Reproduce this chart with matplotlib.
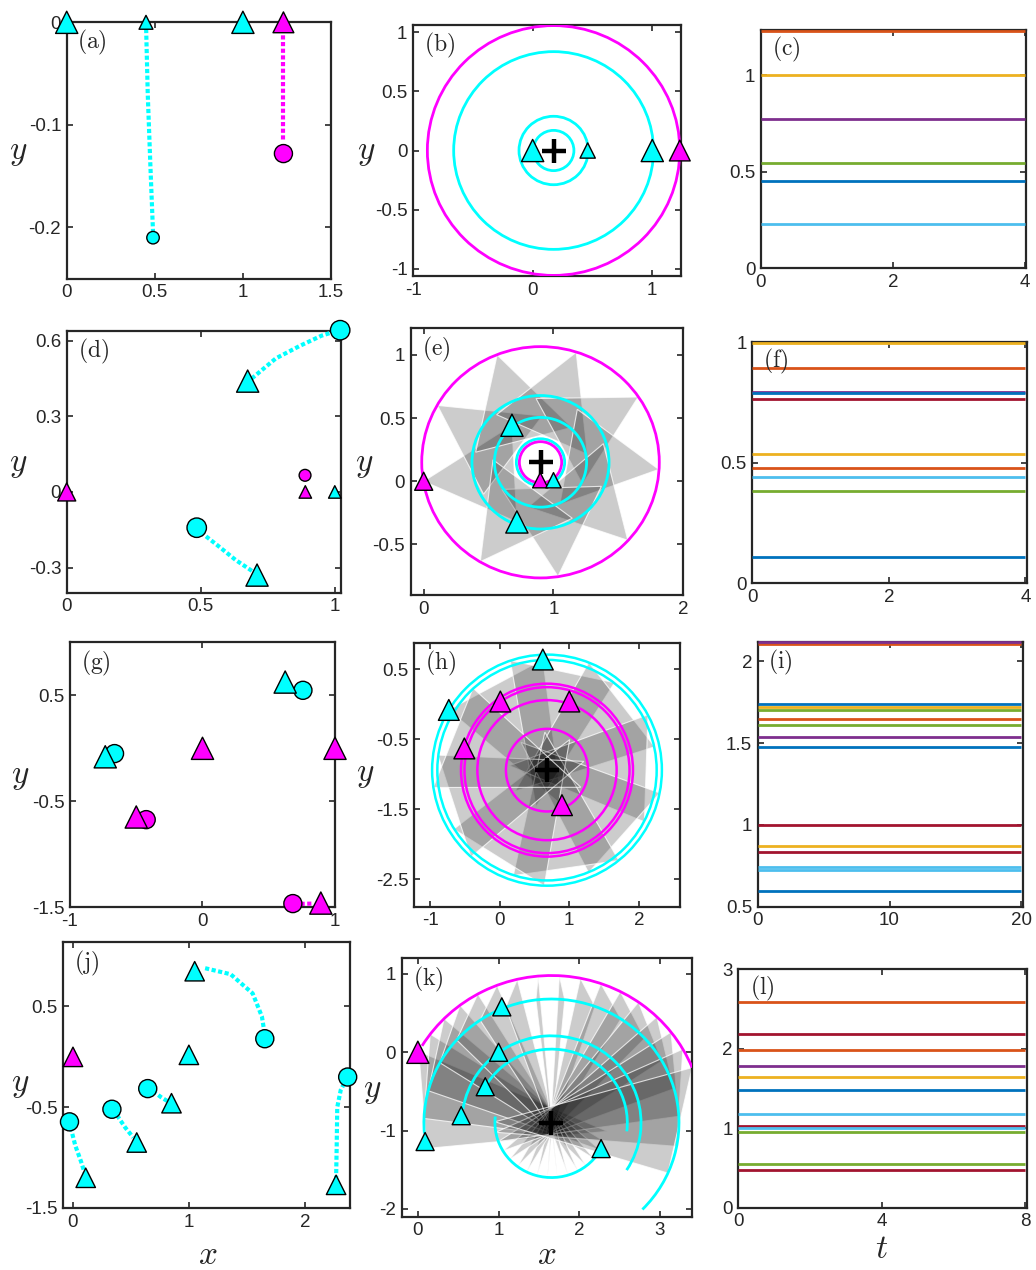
import numpy as np
import matplotlib
matplotlib.use("Agg")
import matplotlib.pyplot as plt
from matplotlib.patches import Circle, Arc, Polygon
from matplotlib.transforms import Affine2D
from matplotlib.ticker import FormatStrFormatter

plt.rcParams["font.family"] = ["Liberation Sans", "DejaVu Sans"]
plt.rcParams["mathtext.fontset"] = "cm"
plt.rcParams["axes.unicode_minus"] = False

CY, MG, K = "#00FFFF", "#FF00FF", "#262626"
BL, OR, YE, PU, GR, LB, DR = ("#0072BD", "#D95319", "#EDB120", "#7E2F8E",
                              "#77AC30", "#4DBEEE", "#A2142F")

# ── (a) initial vs. later positions ──
a_tri_x = [0.0, 0.45, 1.0, 1.23]
a_tri_y = [0.0, 0.0, 0.0, 0.0]
a_tri_c = [CY, CY, CY, MG]
a_tri_ms = [16, 10, 16, 15]
a_dot_x = [0.49, 1.23]
a_dot_y = [-0.21, -0.128]
a_dot_c = [CY, MG]
a_dot_ms = [9, 13]
a_path_cyan = ([0.45, 0.46, 0.475, 0.49], [0.0, -0.07, -0.14, -0.205])
a_path_mag = ([1.23, 1.23], [0.0, -0.115])

# ── (b) rotating frame ──
b_center = (0.175, 0.0)
b_radii = [0.17, 0.289, 0.835, 1.055]
b_rcol = [CY, CY, CY, MG]
b_tri_x = [0.0, 0.46, 1.0, 1.23]
b_tri_c = [CY, CY, CY, MG]
b_tri_ms = [16, 11, 16, 15]

# ── (c) conserved quantities ──
c_vals = [0.45, 1.229, 1.0, 0.774, 0.547, 0.228]
c_cols = [BL, OR, YE, PU, GR, LB]

# ── (d) ──
d_tri_x = [0.0, 0.675, 0.71, 0.89, 1.0]
d_tri_y = [0.0, 0.44, -0.33, 0.0, 0.0]
d_tri_c = [MG, CY, CY, MG, CY]
d_tri_ms = [13, 16, 16, 9, 9]
d_dot_x = [1.02, 0.485, 0.889]
d_dot_y = [0.642, -0.142, 0.066]
d_dot_c = [CY, CY, MG]
d_dot_ms = [14, 14, 8.5]
d_path1 = ([0.69, 0.78, 0.87, 0.95, 1.01], [0.45, 0.53, 0.58, 0.62, 0.64])
d_path2 = ([0.50, 0.56, 0.63, 0.70], [-0.16, -0.21, -0.27, -0.32])

# ── (e) ──
e_center = (0.9, 0.15)
e_radii = [0.915, 0.528, 0.355, 0.186, 0.163]
e_rcol = [MG, CY, CY, CY, MG]
e_tri_x = [0.0, 0.68, 0.718, 0.898, 1.0]
e_tri_y = [0.0, 0.443, -0.322, 0.008, 0.008]
e_tri_c = [MG, CY, CY, MG, CY]
e_tri_ms = [13, 16, 16, 11, 11]
e_shape = ([0.0, 0.68, 0.718], [0.0, 0.443, -0.322])
e_rot = [0, -39, -78, -117, -155, -193, -232, -271, -310]

# ── (f) ──
f_vals = [0.108, 0.479, 0.537, 0.796, 0.385, 0.443, 0.764, 0.79, 0.894, 1.0]
f_cols = [BL, OR, YE, PU, GR, LB, DR, BL, OR, YE]

# ── (g) ──
g_tri_x = [0.624, 0.0, 1.0, -0.734, -0.50, 0.893]
g_tri_y = [0.625, 0.0, 0.0, -0.08, -0.648, -1.46]
g_tri_c = [CY, MG, MG, CY, MG, MG]
g_dot_x = [0.758, -0.664, -0.425, 0.682]
g_dot_y = [0.547, -0.05, -0.673, -1.465]
g_dot_c = [CY, CY, MG, MG]
g_path = ([0.74, 0.83], [-1.468, -1.465])

# ── (h) ──
h_center = (0.68, -0.94)
h_radii = [1.65, 1.575, 1.235, 1.185, 1.0, 0.59]
h_rcol = [CY, CY, MG, MG, MG, MG]
h_tri_x = [0.62, -0.73, 0.01, 1.0, -0.507, 0.895]
h_tri_y = [0.64, -0.08, 0.04, 0.04, -0.63, -1.44]
h_tri_c = [CY, CY, MG, MG, MG, MG]
h_shape = ([0.62, -0.73, 0.895], [0.64, -0.08, -1.44])
h_rot = [0, -40, -80, -120, -160, -200, -240, -280, -320]

# ── (i) ──
i_vals = [2.104, 2.118, 1.74, 1.72, 1.70, 1.645, 1.61, 1.537, 1.478,
          1.0, 0.87, 0.832, 0.745, 0.725, 0.598]
i_cols = [OR, PU, BL, YE, GR, OR, GR, PU, BL, DR, YE, DR, LB, LB, BL]

# ── (j) ──
j_tri_x = [0.0, 1.05, 1.0, 0.85, 0.55, 0.11, 2.27]
j_tri_y = [0.0, 0.85, 0.02, -0.46, -0.85, -1.2, -1.27]
j_tri_c = [MG, CY, CY, CY, CY, CY, CY]
j_dot_x = [1.655, 0.645, 0.336, -0.03, 2.37]
j_dot_y = [0.18, -0.315, -0.52, -0.645, -0.2]
j_paths = [([1.14, 1.36, 1.55, 1.63, 1.655], [0.88, 0.82, 0.63, 0.40, 0.22]),
           ([0.69, 0.76, 0.83], [-0.34, -0.40, -0.45]),
           ([0.38, 0.45, 0.52], [-0.58, -0.70, -0.80]),
           ([-0.02, 0.02, 0.07, 0.10], [-0.70, -0.88, -1.04, -1.15]),
           ([2.27, 2.275, 2.28, 2.31, 2.35], [-1.22, -0.90, -0.50, -0.33, -0.24])]

# ── (k) ──
k_center = (1.655, -0.9)
k_arc_r = [1.88, 1.58, 1.11, 0.94, 0.70]
k_arc_t1 = [22, -44.5, -33, -6.7, 173.5]
k_arc_t2 = [148.5, 185, 171, 151, 333.4]
k_arc_c = [MG, CY, CY, CY, CY]
k_tri_x = [0.0, 1.04, 1.0, 0.835, 0.537, 0.09, 2.27]
k_tri_y = [0.0, 0.58, 0.0, -0.44, -0.81, -1.14, -1.23]
k_tri_c = [MG, CY, CY, CY, CY, CY, CY]
k_tri_ms = [16, 13, 13, 13, 13, 13, 13]
k_rad = [1.88, 1.58, 0.70]
k_ang_m = [151, 143, 135, 127, 119, 111, 103, 95, 87, 79, 71, 63, 55, 46, 38, 30, 22]
k_ang_a = [192, 178, 165, 151, 138, 124, 111, 97, 84, 70, 57, 43, 30, 16, 3, -11, -24]
k_ang_d = [351, 340, 330, 319, 308, 298, 287, 276, 266, 255, 244, 233, 222, 211, 200, 190, 179]

# ── (l) ──
l_vals = [2.589, 2.179, 1.982, 1.776, 1.638, 1.483, 1.177, 1.031, 0.997, 0.955, 0.553, 0.478]
l_cols = [OR, DR, OR, PU, YE, BL, LB, DR, LB, GR, GR, DR]

W, H = 1036, 1270
fig = plt.figure(figsize=(W / 100, H / 100), dpi=100, facecolor="white")


def add_ax(l, r, t, b):
    return fig.add_axes([l / W, 1 - b / H, (r - l) / W, (b - t) / H])


def style(ax, xl, yl, xt, yt, tag):
    ax.set_xlim(*xl)
    ax.set_ylim(*yl)
    ax.set_xticks(xt)
    ax.set_yticks(yt)
    ax.xaxis.set_major_formatter(FormatStrFormatter("%g"))
    ax.yaxis.set_major_formatter(FormatStrFormatter("%g"))
    ax.tick_params(direction="in", length=4, width=1.2, colors=K, labelsize=13.5,
                   top=True, right=True, pad=4)
    for s in ax.spines.values():
        s.set_color(K)
        s.set_linewidth(1.6)
    ax.text(0.04, 0.92, r"$\mathrm{(%s)}$" % tag, transform=ax.transAxes,
            fontsize=17, color=K, va="center", ha="left", zorder=10)


def tri(ax, x, y, c, ms):
    ax.scatter(x, y, s=np.square(ms), c=c, marker="^", edgecolors="k",
               linewidths=1, zorder=6, clip_on=False)


def dots(ax, x, y, c, ms):
    ax.scatter(x, y, s=np.square(ms), c=c, marker="o", edgecolors="k",
               linewidths=1, zorder=6, clip_on=False)


def dotted(ax, path, c):
    ax.plot(path[0], path[1], color=c, lw=3, dashes=(1.0, 0.6),
            dash_capstyle="butt", zorder=4)


def plus(ax, c):
    ax.plot(c[0], c[1], marker="+", color="k", ms=17, mew=3.2, zorder=7)


def hl(ax, vals, cols, t1):
    ax.hlines(vals, 0, t1, colors=cols, lw=2, zorder=3, clip_on=False)


def gray_tris(ax, shape, center, rots):
    verts = np.column_stack(shape)
    for a in rots:
        tr = Affine2D().rotate_deg_around(center[0], center[1], a) + ax.transData
        ax.add_patch(Polygon(verts, closed=True, transform=tr, fc=(0, 0, 0, 0.2),
                             ec=(1, 1, 1, 0.75), lw=0.8, zorder=1))


# (a)
ax = add_ax(66.7, 331, 22.3, 278.7)
style(ax, (0, 1.5), (-0.25, 0), [0, 0.5, 1, 1.5], [-0.2, -0.1, 0], "a")
dotted(ax, a_path_cyan, CY)
dotted(ax, a_path_mag, MG)
tri(ax, a_tri_x, a_tri_y, a_tri_c, a_tri_ms)
dots(ax, a_dot_x, a_dot_y, a_dot_c, a_dot_ms)

# (b)
ax = add_ax(413, 681, 25, 276)
style(ax, (-0.975, 1.24), (-1.06, 1.06), [-1, 0, 1], [-1, -0.5, 0, 0.5, 1], "b")
for r, c in zip(b_radii, b_rcol):
    ax.add_patch(Circle(b_center, r, fill=False, ec=c, lw=2, zorder=3))
plus(ax, b_center)
tri(ax, b_tri_x, np.zeros(len(b_tri_x)), b_tri_c, b_tri_ms)

# (c)
ax = add_ax(761, 1026, 30, 268.3)
style(ax, (0, 4.02), (0, 1.233), [0, 2, 4], [0, 0.5, 1], "c")
hl(ax, c_vals, c_cols, 4)

# (d)
ax = add_ax(66.7, 340.7, 330.7, 592.7)
style(ax, (0, 1.022), (-0.4, 0.64), [0, 0.5, 1], [-0.3, 0, 0.3, 0.6], "d")
dotted(ax, d_path1, CY)
dotted(ax, d_path2, CY)
tri(ax, d_tri_x, d_tri_y, d_tri_c, d_tri_ms)
dots(ax, d_dot_x, d_dot_y, d_dot_c, d_dot_ms)

# (e)
ax = add_ax(410.7, 683.3, 328.3, 595)
style(ax, (-0.1, 2.0), (-0.9, 1.21), [0, 1, 2], [-0.5, 0, 0.5, 1], "e")
gray_tris(ax, e_shape, e_center, e_rot)
for r, c in zip(e_radii, e_rcol):
    ax.add_patch(Circle(e_center, r, fill=False, ec=c, lw=2, zorder=3))
plus(ax, e_center)
tri(ax, e_tri_x, e_tri_y, e_tri_c, e_tri_ms)

# (f)
ax = add_ax(752.3, 1026.7, 341.7, 583.3)
style(ax, (0, 4.02), (0, 1.004), [0, 2, 4], [0, 0.5, 1], "f")
hl(ax, f_vals, f_cols, 4)

# (g)
ax = add_ax(70, 335, 642.3, 907.3)
style(ax, (-1, 1), (-1.5, 1.0), [-1, 0, 1], [-1.5, -0.5, 0.5], "g")
dotted(ax, g_path, MG)
dots(ax, g_dot_x, g_dot_y, g_dot_c, [13] * len(g_dot_x))
tri(ax, g_tri_x, g_tri_y, g_tri_c, [16] * len(g_tri_x))

# (h)
ax = add_ax(414, 680, 642.7, 906.7)
style(ax, (-1.23, 2.59), (-2.89, 0.88), [-1, 0, 1, 2], [-2.5, -1.5, -0.5, 0.5], "h")
gray_tris(ax, h_shape, h_center, h_rot)
for r, c in zip(h_radii, h_rcol):
    ax.add_patch(Circle(h_center, r, fill=False, ec=c, lw=1.8, zorder=3))
plus(ax, h_center)
tri(ax, h_tri_x, h_tri_y, h_tri_c, [15] * len(h_tri_x))

# (i)
ax = add_ax(757.7, 1023.3, 641.7, 906.7)
style(ax, (0, 20.15), (0.5, 2.12), [0, 10, 20], [0.5, 1, 1.5, 2], "i")
hl(ax, i_vals, i_cols, 20)

# (j)
ax = add_ax(63, 350, 942, 1208)
style(ax, (-0.086, 2.39), (-1.5, 1.14), [0, 1, 2], [-1.5, -0.5, 0.5], "j")
for p in j_paths:
    dotted(ax, p, CY)
dots(ax, j_dot_x, j_dot_y, [CY] * len(j_dot_x), [13] * len(j_dot_x))
tri(ax, j_tri_x, j_tri_y, j_tri_c, [14] * len(j_tri_x))

# (k)
ax = add_ax(401.7, 692.3, 958.3, 1216.7)
style(ax, (-0.2, 3.4), (-2.1, 1.2), [0, 1, 2, 3], [-2, -1, 0, 1], "k")
cx, cy = k_center
for am, aa, ad in zip(k_ang_m, k_ang_a, k_ang_d):
    angs = np.radians([am, aa, ad])
    vx = cx + np.array(k_rad) * np.cos(angs)
    vy = cy + np.array(k_rad) * np.sin(angs)
    ax.add_patch(Polygon(np.column_stack([vx, vy]), closed=True, fc=(0, 0, 0, 0.2),
                         ec=(1, 1, 1, 0.75), lw=0.8, zorder=1))
for r, t1, t2, c in zip(k_arc_r, k_arc_t1, k_arc_t2, k_arc_c):
    ax.add_patch(Arc(k_center, 2 * r, 2 * r, theta1=t1, theta2=t2, ec=c, lw=2, zorder=3))
plus(ax, k_center)
tri(ax, k_tri_x, k_tri_y, k_tri_c, k_tri_ms)

# (l)
ax = add_ax(738.3, 1026.7, 969, 1207.7)
style(ax, (0, 8.05), (0, 3), [0, 4, 8], [0, 1, 2, 3], "l")
hl(ax, l_vals, l_cols, 8)

# axis labels
for px, py in [(18, 153), (18, 465), (20, 777), (20, 1085),
               (366, 152), (364, 465), (365, 775), (372, 1090)]:
    fig.text(px / W, 1 - py / H, r"$y$", fontsize=24, ha="center", va="center", color=K)
for px, py, s in [(208, 1255, "x"), (547, 1255, "x"), (882, 1250, "t")]:
    fig.text(px / W, 1 - py / H, r"$%s$" % s, fontsize=24, ha="center", va="center", color=K)

fig.savefig("out.png", dpi=100, facecolor="white")
